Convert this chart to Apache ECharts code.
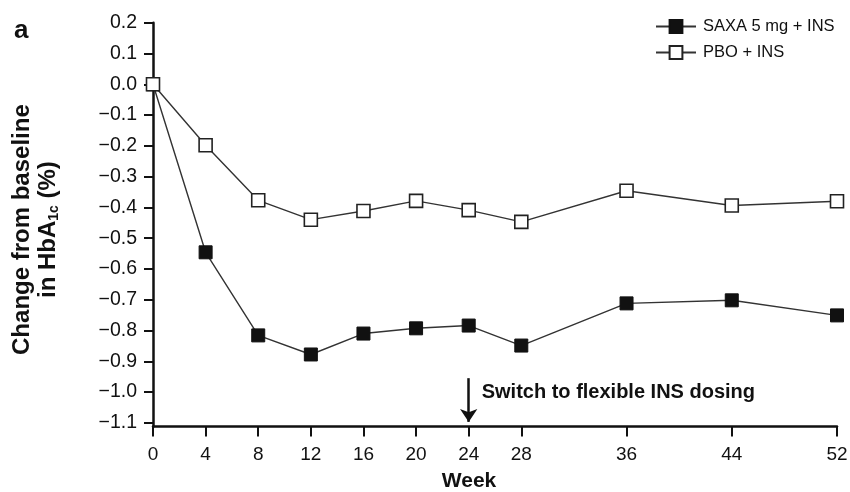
<!DOCTYPE html>
<html>
<head>
<meta charset="utf-8">
<script src="https://cdn.jsdelivr.net/npm/echarts@6/dist/echarts.min.js"></script>
<style>html,body{margin:0;padding:0;background:#fff}#c{width:850px;height:492px}</style>
</head>
<body>
<div id="c"></div>
<script>
var weeks = [0, 4, 8, 12, 16, 20, 24, 28, 36, 44, 52];
var saxa = [0, -0.546, -0.816, -0.878, -0.810, -0.793, -0.784, -0.849, -0.712, -0.702, -0.751];
var pbo = [0, -0.198, -0.377, -0.440, -0.412, -0.379, -0.409, -0.447, -0.346, -0.394, -0.380];
var xTicks = [0, 4, 8, 12, 16, 20, 24, 28, 36, 44, 52];
var yTicks = [0.2, 0.1, 0, -0.1, -0.2, -0.3, -0.4, -0.5, -0.6, -0.7, -0.8, -0.9, -1.0, -1.1];
var seriesNames = ['SAXA 5 mg + INS', 'PBO + INS'];
var annotText = 'Switch to flexible INS dosing';
var annotWeek = 24;

var FONT = '"Liberation Sans", Arial, Helvetica, sans-serif';
function pairs(xs, ys) { return xs.map(function (x, i) { return [x, ys[i]]; }); }
function fmtY(v) { var r = Math.round(v * 10) / 10; return (r < 0 ? '\u2212' : '') + Math.abs(r).toFixed(1); }

var chart = echarts.init(document.getElementById('c'), null, { renderer: 'canvas' });
chart.setOption({
  animation: false,
  backgroundColor: '#fff',
  textStyle: { fontFamily: FONT },
  grid: { left: 153, right: 13, top: 22.7, bottom: 65.5, containLabel: false, outerBoundsMode: 'none' },
  graphic: [{
    type: 'text', left: 14, top: 18,
    style: { text: 'a', fontSize: 26, fontWeight: 'bold', fill: '#111', fontFamily: FONT }
  }],
  legend: {
    orient: 'vertical', left: 655, top: 18, padding: 0, itemWidth: 40, itemHeight: 16, itemGap: 9,
    textStyle: { fontSize: 16.5, color: '#111', fontFamily: FONT, padding: [0, 0, 0, 2] },
    data: seriesNames
  },
  xAxis: {
    type: 'value', min: 0, max: 52,
    name: 'Week', nameLocation: 'middle', nameGap: 44,
    nameTextStyle: { fontSize: 21, fontWeight: 'bold', color: '#111', fontFamily: FONT, padding: [0, 52, 0, 0] },
    axisLine: { show: true, onZero: false, lineStyle: { color: '#111', width: 2.5 } },
    axisTick: { show: true, customValues: xTicks, length: 10, lineStyle: { color: '#111', width: 2 } },
    axisLabel: { customValues: xTicks, fontSize: 19, color: '#111', margin: 19, fontFamily: FONT },
    splitLine: { show: false }
  },
  yAxis: {
    type: 'value', min: -1.112, max: 0.2,
    name: '{a|Change from baseline}\n{a|in HbA}{s|1c}{a| (%)}',
    nameLocation: 'middle', nameRotate: 90, nameGap: 92,
    nameTextStyle: {
      fontFamily: FONT, color: '#111', align: 'center', padding: [0, 10, 0, 0],
      rich: {
        a: { fontSize: 24, fontWeight: 'bold', lineHeight: 26, color: '#111', fontFamily: FONT },
        s: { fontSize: 14, fontWeight: 'bold', lineHeight: 14, color: '#111', fontFamily: FONT, verticalAlign: 'bottom' }
      }
    },
    axisLine: { show: true, onZero: false, lineStyle: { color: '#111', width: 2.5 } },
    axisTick: { show: true, customValues: yTicks, length: 9, lineStyle: { color: '#111', width: 2 } },
    axisLabel: { customValues: yTicks, fontSize: 19.5, color: '#111', margin: 16, fontFamily: FONT, formatter: fmtY },
    splitLine: { show: false }
  },
  series: [{
    name: seriesNames[0], type: 'line', data: pairs(weeks, saxa),
    symbol: 'rect', symbolSize: 13, z: 3,
    lineStyle: { color: '#333', width: 1.4 },
    itemStyle: { color: '#111', borderColor: '#111', borderWidth: 1 },
    emphasis: { disabled: true },
    markLine: {
      silent: true, symbol: ['none', 'arrow'], symbolSize: 13,
      lineStyle: { color: '#111', width: 2.5, type: 'solid' },
      label: { show: false },
      data: [[{ coord: [annotWeek, -0.955] }, { coord: [annotWeek, -1.097] }]]
    },
    markPoint: {
      silent: true, symbol: 'circle', symbolSize: 0,
      label: { show: true, position: 'right', distance: 13, formatter: annotText, fontSize: 20, fontWeight: 'bold', color: '#111', fontFamily: FONT },
      data: [{ coord: [annotWeek, -1.0] }]
    }
  }, {
    name: seriesNames[1], type: 'line', data: pairs(weeks, pbo),
    symbol: 'rect', symbolSize: 13, z: 3,
    lineStyle: { color: '#333', width: 1.4 },
    itemStyle: { color: '#fff', borderColor: '#222', borderWidth: 1.6 },
    emphasis: { disabled: true }
  }]
});
</script>
</body>
</html>
